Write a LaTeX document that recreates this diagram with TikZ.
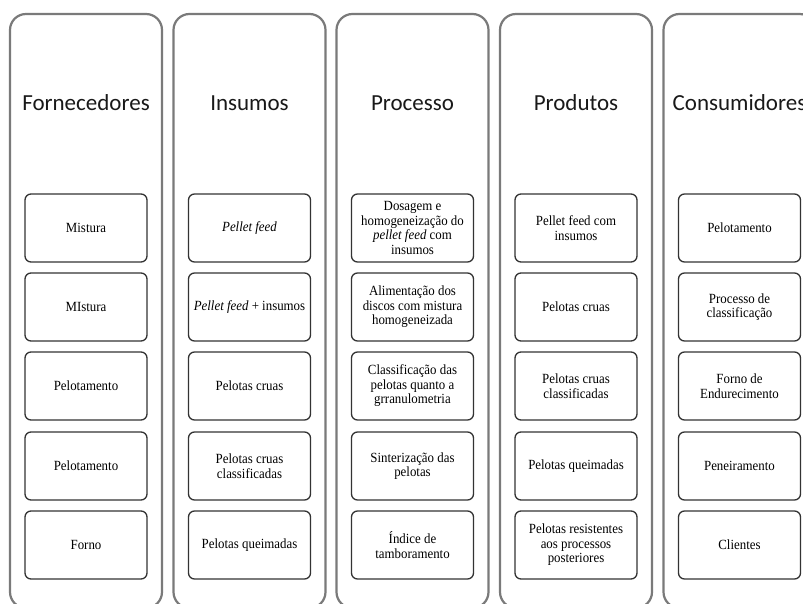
\documentclass[tikz,border=0pt]{standalone}
\usepackage{fontspec}
\setmainfont[FakeStretch=0.92]{Liberation Serif}
\newfontfamily\headfont{Carlito}
\begin{document}
\begin{tikzpicture}[x=1pt,y=-1pt,
  column/.style={draw=black!52, line width=2.2pt, rounded corners=16pt,
    minimum width=152pt, minimum height=594pt, inner sep=0pt},
  title/.style={font=\headfont\fontsize{23}{27}\selectfont, text=black!90, inner sep=0pt},
  item/.style={draw=black!80, line width=1.3pt, rounded corners=6pt,
    minimum width=122pt, minimum height=68pt, align=center, inner sep=1pt,
    font=\fontsize{14}{14.5}\selectfont}]
\useasboundingbox (0,0) rectangle (803,604);

% five swimlane columns
\node[column] (colF) at (86,311) {};
\node[column] (colI) at (249.5,311) {};
\node[column] (colP) at (412.5,311) {};
\node[column] (colR) at (576,311) {};
\node[column] (colC) at (739.5,311) {};

% column titles
\node[title] (tF) at (86,103) {Fornecedores};
\node[title] (tI) at (249.5,103) {Insumos};
\node[title] (tP) at (412.5,103) {Processo};
\node[title] (tR) at (576,103) {Produtos};
\node[title] (tC) at (739.5,103) {Consumidores};

% Fornecedores
\node[item] (f1) at (86,228) {Mistura};
\node[item] (f2) at (86,307) {MIstura};
\node[item] (f3) at (86,386) {Pelotamento};
\node[item] (f4) at (86,466) {Pelotamento};
\node[item] (f5) at (86,545) {Forno};

% Insumos
\node[item] (i1) at (249.5,228) {\itshape Pellet feed};
\node[item] (i2) at (249.5,307) {\textit{Pellet feed} + insumos};
\node[item] (i3) at (249.5,386) {Pelotas cruas};
\node[item] (i4) at (249.5,466) {Pelotas cruas\\classificadas};
\node[item] (i5) at (249.5,545) {Pelotas queimadas};

% Processo
\node[item] (p1) at (412.5,228) {Dosagem e\\homogeneização do\\\textit{pellet feed} com\\insumos};
\node[item] (p2) at (412.5,307) {Alimentação dos\\discos com mistura\\homogeneizada};
\node[item] (p3) at (412.5,386) {Classificação das\\pelotas quanto a\\grranulometria};
\node[item] (p4) at (412.5,466) {Sinterização das\\pelotas};
\node[item] (p5) at (412.5,545) {Índice de\\tamboramento};

% Produtos
\node[item] (r1) at (576,228) {Pellet feed com\\insumos};
\node[item] (r2) at (576,307) {Pelotas cruas};
\node[item] (r3) at (576,386) {Pelotas cruas\\classificadas};
\node[item] (r4) at (576,466) {Pelotas queimadas};
\node[item] (r5) at (576,545) {Pelotas resistentes\\aos processos\\posteriores};

% Consumidores
\node[item] (c1) at (739.5,228) {Pelotamento};
\node[item] (c2) at (739.5,307) {Processo de\\classificação};
\node[item] (c3) at (739.5,386) {Forno de\\Endurecimento};
\node[item] (c4) at (739.5,466) {Peneiramento};
\node[item] (c5) at (739.5,545) {Clientes};
\end{tikzpicture}
\end{document}
